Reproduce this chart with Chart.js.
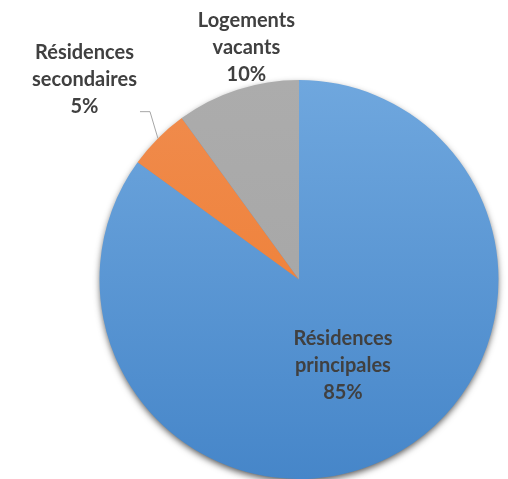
<!DOCTYPE html>
<html>
<head>
<meta charset="utf-8">
<script src="https://cdn.jsdelivr.net/npm/chart.js@4"></script>
<style>
  html, body { margin: 0; padding: 0; background: #fff; }
  #wrap { width: 508px; height: 479px; position: relative; }
</style>
</head>
<body>
<div id="wrap"><canvas id="myChart"></canvas></div>
<script>
// Data
var categories = ['Résidences principales', 'Résidences secondaires', 'Logements vacants'];
var values = [85, 5, 10];

// colour pairs (top, bottom) for the gradients
var topColors = ['#6fa7de', '#f08c4e', '#acacac'];
var bottomColors = ['#4686c9', '#ee7a2c', '#a3a3a3'];

// where each label sits: radius as fraction of pie radius, angle shift in degrees
var labelSpots = [
  { r: 0.485, da: 0 },
  { r: 1.47, da: -2 },
  { r: 1.19, da: 5.2 }
];

function sliceColor(context) {
  var chart = context.chart;
  var area = chart.chartArea;
  var i = context.dataIndex;
  if (!area) return bottomColors[i];
  var g = chart.ctx.createLinearGradient(0, area.top, 0, area.bottom);
  g.addColorStop(0, topColors[i]);
  g.addColorStop(1, bottomColors[i]);
  return g;
}

// soft shadow under the whole pie
var shadowPlugin = {
  id: 'pieShadow',
  beforeDatasetsDraw: function(chart) {
    var arc = chart.getDatasetMeta(0).data[0];
    if (!arc) return;
    var ctx = chart.ctx;
    ctx.save();
    ctx.shadowColor = 'rgba(0,0,0,0.7)';
    ctx.shadowBlur = 7;
    ctx.shadowOffsetX = 0;
    ctx.shadowOffsetY = 3;
    ctx.beginPath();
    ctx.arc(arc.x, arc.y, arc.outerRadius - 1, 0, Math.PI * 2);
    ctx.fillStyle = '#5a8fc8';
    ctx.fill();
    ctx.restore();
  }
};

// data labels, with a leader line for the small slice
var labelPlugin = {
  id: 'sliceLabels',
  afterDatasetsDraw: function(chart) {
    var ctx = chart.ctx;
    var meta = chart.getDatasetMeta(0);
    var total = values.reduce(function(a, b) { return a + b; }, 0);
    ctx.save();
    ctx.font = 'bold 20px Lato, "Open Sans", sans-serif';
    ctx.fillStyle = '#404040';
    ctx.textAlign = 'center';
    ctx.textBaseline = 'middle';
    meta.data.forEach(function(arc, i) {
      var mid = (arc.startAngle + arc.endAngle) / 2;
      var spot = labelSpots[i];
      var a = mid + spot.da * Math.PI / 180;
      var cx = arc.x + Math.cos(a) * arc.outerRadius * spot.r;
      var cy = arc.y + Math.sin(a) * arc.outerRadius * spot.r;
      var words = categories[i].split(' ');
      var lines = words.concat([Math.round(values[i] / total * 100) + '%']);
      var lh = 27;
      var y0 = cy - (lines.length - 1) * lh / 2;
      lines.forEach(function(t, k) {
        ctx.fillText(t, cx, y0 + k * lh);
      });

      if (i === 1) {
        var a2 = mid + 3.4 * Math.PI / 180;
        var ex = arc.x + Math.cos(mid) * arc.outerRadius;
        var ey = arc.y + Math.sin(mid) * arc.outerRadius;
        var kx = arc.x + Math.cos(a2) * arc.outerRadius * 1.125;
        var ky = arc.y + Math.sin(a2) * arc.outerRadius * 1.125;
        ctx.beginPath();
        ctx.moveTo(ex, ey);
        ctx.lineTo(kx, ky);
        ctx.lineTo(kx - 10, ky);
        ctx.strokeStyle = '#a6a6a6';
        ctx.lineWidth = 1;
        ctx.stroke();
      }
    });
    ctx.restore();
  }
};

var ctx = document.getElementById('myChart').getContext('2d');
var myChart = new Chart(ctx, {
  type: 'pie',
  data: {
    labels: categories,
    datasets: [{
      data: values,
      backgroundColor: sliceColor,
      borderWidth: 0
    }]
  },
  options: {
    responsive: true,
    maintainAspectRatio: false,
    animation: false,
    layout: {
      padding: { left: 99, right: 9, top: 80, bottom: -2 }
    },
    plugins: {
      legend: { display: false },
      tooltip: { enabled: false }
    }
  },
  plugins: [shadowPlugin, labelPlugin]
});
</script>
</body>
</html>
